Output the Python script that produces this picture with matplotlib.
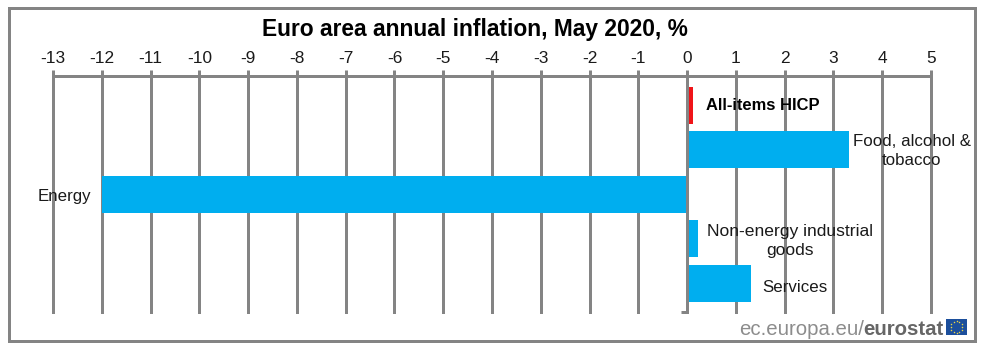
import numpy as np
import matplotlib
matplotlib.use("Agg")
import matplotlib.pyplot as plt
from matplotlib.patches import Rectangle

plt.rcParams['font.family'] = ['Liberation Sans', 'DejaVu Sans']

title = "Euro area annual inflation, May 2020, %"
categories = ["All-items HICP", "Food, alcohol &\ntobacco", "Energy",
              "Non-energy industrial\ngoods", "Services"]
values = [0.1, 3.3, -12.0, 0.2, 1.3]
colors = ["#f01418", "#00aeef", "#00aeef", "#00aeef", "#00aeef"]
ticks = list(range(-13, 6))

W, H = 986, 353
GREY = "#848484"
fig = plt.figure(figsize=(W / 100, H / 100), dpi=100, facecolor="white")
px = lambda v: v * 72 / 100

# outer frame
fig.add_artist(Rectangle((8.5 / W, 1 - 341 / H), (975 - 8.5) / W, (341 - 7.5) / H,
                         transform=fig.transFigure, fill=False, ec=GREY, lw=px(3)))

ax = fig.add_axes([53 / W, 1 - 312 / H, (931 - 53) / W, (312 - 76) / H])
ax.set_xlim(-13, 5)
band = 44.5
ax.set_ylim((312 - 105.5) / band, (76 - 105.5) / band)
ax.patch.set_alpha(0)

ypos = np.arange(len(categories))
ax.barh(ypos, values, height=37 / band, left=[0.02 if v > 0 else 0 for v in values],
        color=colors, zorder=2)

for t in ticks:
    ax.axvline(t, color=GREY, lw=px(3), zorder=3 if t == 0 else 1, clip_on=False)

for s in ["left", "right", "bottom"]:
    ax.spines[s].set_visible(False)
ax.spines["top"].set_color(GREY)
ax.spines["top"].set_linewidth(px(3))
ax.spines["top"].set_zorder(1)
ax.xaxis.tick_top()
ax.set_xticks(ticks)
ax.set_xticklabels([str(t) for t in ticks], fontsize=12.4, color="#1a1a1a")
ax.tick_params(axis="x", length=px(6), width=px(3), color=GREY, pad=px(4))
ax.set_yticks([])

# small closing tick of the zero line
ax.plot([-6 / 48.8, 0], [(312 - 105.5) / band] * 2, color=GREY, lw=px(3), clip_on=False,
        solid_capstyle="butt", zorder=3)


def label(text, x, y, **extra):
    d = dict(fontsize=12.2, color="#1a1a1a", va="center", linespacing=1.3)
    d.update(extra)
    fig.text(x / W, 1 - y / H, text, **d)


label(categories[0], 706, 106, ha="left", fontweight="bold", color="black", fontsize=11.9)
label(categories[1], 912, 151, ha="center")
label(categories[2], 91, 196, ha="right")
label(categories[3], 790, 241, ha="center", fontsize=12.6)
label(categories[4], 795, 287, ha="center")

fig.text(474.5 / W, 1 - 29.5 / H, title, fontsize=16.4, fontweight="bold", color="black",
         ha="center", va="center")

# eurostat signature
fig.text(739 / W, 1 - 335 / H, "ec.europa.eu/", fontsize=14.7, color="#8c8c8c",
         ha="left", va="baseline")
fig.text(863 / W, 1 - 335 / H, "eurostat", fontsize=14.7, fontweight="bold", color="#666666",
         ha="left", va="baseline")

flag = fig.add_axes([946 / W, 1 - 335 / H, 21 / W, 16 / H])
flag.set_facecolor("#1c4f9c")
flag.set_xlim(-1, 1); flag.set_ylim(-1, 1)
flag.set_xticks([]); flag.set_yticks([])
for s in flag.spines.values():
    s.set_visible(False)
ang = np.linspace(0, 2 * np.pi, 12, endpoint=False)
flag.scatter(0.55 * np.cos(ang), 0.7 * np.sin(ang), s=1.2, color="#e8d44a", linewidths=0)

fig.savefig("out.png", dpi=100)
